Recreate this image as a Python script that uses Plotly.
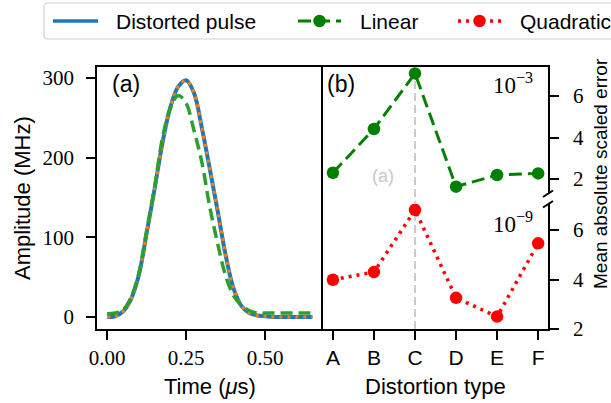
import plotly.graph_objects as go

W, H = 611, 403


def px(x):
    return x / W


def py(y):
    return 1 - y / H


# ---------------- data ----------------
time_us = [0.000, 0.025, 0.050, 0.075, 0.100, 0.125, 0.150, 0.175, 0.200,
           0.225, 0.250, 0.275, 0.300, 0.325, 0.350, 0.375, 0.400, 0.425,
           0.450, 0.475, 0.500, 0.525, 0.550, 0.575, 0.600, 0.625, 0.650]
distorted_pulse = [0, 1, 7, 22, 52, 105, 160, 218, 263,
                   289, 297, 281, 237, 186, 133, 78, 36, 14,
                   5, 2, 1, 0, 0, 0, 0, 0, 0]
quadratic_pulse = [0, 1, 7, 22, 52, 105, 160, 218, 263,
                   289, 297, 281, 237, 186, 133, 78, 36, 14,
                   5, 2, 1, 0, 0, 0, 0, 0, 0]
linear_pulse = [4, 5, 9, 24, 54, 108, 162, 224, 262,
                278, 268, 234, 194, 138, 92, 52, 27, 15,
                8, 5, 5, 5, 5, 5, 5, 5, 5]

categories = ["A", "B", "C", "D", "E", "F"]
linear_err = [2.30, 4.41, 7.09, 1.63, 2.19, 2.27]   # x 1e-3
quadratic_err = [3.99, 4.30, 6.81, 3.26, 2.50, 5.46]  # x 1e-9

amp_ticks = [0, 100, 200, 300]
time_ticks = [0.0, 0.25, 0.5]
time_ticktext = ["0.00", "0.25", "0.50"]
err_ticks = [2, 4, 6]

# ---------------- style ----------------
BLUE = "#1f77b4"
ORANGE = "#ff7f0e"
TGREEN = "#2ca02c"
GREEN = "#008000"
RED = "#ff0000"
SANS = "Liberation Sans"
SERIF = "Liberation Serif"
TICKFONT = dict(family=SERIF, size=21, color="black")

fig = go.Figure()

# panel (a)
fig.add_trace(go.Scatter(x=time_us, y=distorted_pulse, mode="lines", line=dict(color=BLUE, width=4, shape="spline"),
                         showlegend=False, xaxis="x", yaxis="y"))
fig.add_trace(go.Scatter(x=time_us, y=quadratic_pulse, mode="lines",
                         line=dict(color=ORANGE, width=3, dash="3px,5px", shape="spline"),
                         showlegend=False, xaxis="x", yaxis="y"))
fig.add_trace(go.Scatter(x=time_us, y=linear_pulse, mode="lines",
                         line=dict(color=TGREEN, width=3.5, dash="12px,6px", shape="spline"),
                         showlegend=False, xaxis="x", yaxis="y"))

# panel (b)
fig.add_trace(go.Scatter(x=categories, y=linear_err, mode="lines+markers",
                         line=dict(color=GREEN, width=3, dash="13px,6px"),
                         marker=dict(color=GREEN, size=12.5), showlegend=False, xaxis="x2", yaxis="y2"))
fig.add_trace(go.Scatter(x=categories, y=quadratic_err, mode="lines+markers",
                         line=dict(color=RED, width=3.5, dash="3px,5px"),
                         marker=dict(color=RED, size=12.5), showlegend=False, xaxis="x3", yaxis="y3"))

axcommon = dict(showgrid=False, zeroline=False, showline=True, linecolor="black", linewidth=1.5,
                ticks="outside", ticklen=9, tickwidth=1.5, tickcolor="black", tickfont=TICKFONT)

xb_range = [-0.29, 5.24]

fig.update_layout(
    width=W, height=H,
    margin=dict(l=0, r=0, t=0, b=0, autoexpand=False),
    paper_bgcolor="white", plot_bgcolor="white",
    showlegend=False,
    xaxis=dict(domain=[px(97), px(321)], range=[-0.032, 0.677], tickvals=time_ticks, ticktext=time_ticktext,
               mirror=True, anchor="y", **axcommon),
    yaxis=dict(domain=[py(329), py(67)], range=[-15, 313.7], tickvals=amp_ticks, mirror=True, anchor="x",
               ticklabelstandoff=8, **axcommon),
    xaxis2=dict(domain=[px(321), px(548)], type="category", range=xb_range, anchor="y2", side="top",
                showgrid=False, zeroline=False, showline=True, linecolor="black", linewidth=1.5,
                ticks="", showticklabels=False),
    yaxis2=dict(domain=[py(193.5), py(67)], range=[1.30, 7.40], tickvals=err_ticks, anchor="x2", side="right",
                ticklabelstandoff=10, **axcommon),
    xaxis3=dict(domain=[px(321), px(548)], type="category", range=xb_range, anchor="y3", side="bottom",
                tickvals=categories, **{**axcommon, "tickfont": dict(family=SANS, size=21, color="black")}),
    yaxis3=dict(domain=[py(329), py(204)], range=[2, 7.05], tickvals=err_ticks, anchor="x3", side="right",
                ticklabelstandoff=10, **axcommon),
)

shapes = []
# vertical reference line at distortion C
shapes.append(dict(type="line", xref="x3", yref="paper", x0=2, x1=2, y0=py(329), y1=py(67),
                   line=dict(color="#cccccc", width=2, dash="8px,4px"), layer="below"))
# axis break marks
for (x0, y0, x1, y1) in [(543, 197, 553, 190.5), (543, 207.5, 553, 201)]:
    shapes.append(dict(type="line", xref="paper", yref="paper", x0=px(x0), y0=py(y0), x1=px(x1), y1=py(y1),
                       line=dict(color="black", width=2)))

# legend box (rounded) - drawn manually, extends past right edge as in reference
lx0, ly0, lx1, ly1, r = 44, 3, 640, 39, 4
path = (f"M {px(lx0 + r)},{py(ly0)} L {px(lx1 - r)},{py(ly0)} "
        f"Q {px(lx1)},{py(ly0)} {px(lx1)},{py(ly0 + r)} L {px(lx1)},{py(ly1 - r)} "
        f"Q {px(lx1)},{py(ly1)} {px(lx1 - r)},{py(ly1)} L {px(lx0 + r)},{py(ly1)} "
        f"Q {px(lx0)},{py(ly1)} {px(lx0)},{py(ly1 - r)} L {px(lx0)},{py(ly0 + r)} "
        f"Q {px(lx0)},{py(ly0)} {px(lx0 + r)},{py(ly0)} Z")
shapes.append(dict(type="path", xref="paper", yref="paper", path=path,
                   line=dict(color="#d0d0d0", width=1.2), fillcolor="rgba(255,255,255,0.8)"))
ly = 21
shapes.append(dict(type="line", xref="paper", yref="paper", x0=px(53), x1=px(98), y0=py(ly), y1=py(ly),
                   line=dict(color=BLUE, width=3.5)))
shapes.append(dict(type="line", xref="paper", yref="paper", x0=px(298), x1=px(341), y0=py(ly), y1=py(ly),
                   line=dict(color=GREEN, width=3, dash="13px,6px")))
shapes.append(dict(type="line", xref="paper", yref="paper", x0=px(458), x1=px(501), y0=py(ly), y1=py(ly),
                   line=dict(color=RED, width=3.5, dash="3px,5px")))
for cx, col in [(319.5, GREEN), (479.5, RED)]:
    rr = 6.2
    shapes.append(dict(type="circle", xref="paper", yref="paper", x0=px(cx - rr), x1=px(cx + rr),
                       y0=py(ly + rr), y1=py(ly - rr), fillcolor=col, line=dict(color=col, width=0)))
fig.update_layout(shapes=shapes)

ann = []
ann.append(dict(text="Distorted pulse", x=px(113.5), y=py(ly), xanchor="left", yanchor="middle"))
ann.append(dict(text="Linear", x=px(357.5), y=py(ly), xanchor="left", yanchor="middle"))
ann.append(dict(text="Quadratic", x=px(518), y=py(ly), xanchor="left", yanchor="middle"))
for a in ann:
    a.update(xref="paper", yref="paper", showarrow=False, font=dict(family=SANS, size=21, color="black"))

more = [
    dict(text="(a)", x=px(126), y=py(84), font=dict(family=SANS, size=23, color="black")),
    dict(text="(b)", x=px(341), y=py(84), font=dict(family=SANS, size=23, color="black")),
    dict(text="10<sup>\u22123</sup>", x=px(513), y=py(84), font=dict(family=SERIF, size=23, color="black")),
    dict(text="10<sup>\u22129</sup>", x=px(513), y=py(222), font=dict(family=SERIF, size=23, color="black")),
    dict(text="Time (<i>\u03bc</i>s)", x=px(210), y=py(386), font=dict(family=SANS, size=22, color="black")),
    dict(text="Distortion type", x=px(435), y=py(386), font=dict(family=SANS, size=22, color="black")),
    dict(text="Amplitude (MHz)", x=px(22), y=py(198), textangle=-90,
         font=dict(family=SANS, size=22, color="black")),
    dict(text="Mean absolute scaled error", x=px(600), y=py(174), textangle=-90,
         font=dict(family=SANS, size=19, color="black")),
]
for a in more:
    a.update(xref="paper", yref="paper", showarrow=False, xanchor="center", yanchor="middle")
ann += more
ann.append(dict(text="(a)", x=1.22, xref="x2", y=py(176), yref="paper", showarrow=False,
                font=dict(family=SANS, size=18, color="#c8c8c8"), xanchor="center", yanchor="middle"))
fig.update_layout(annotations=ann)

fig.write_html("out.html")
